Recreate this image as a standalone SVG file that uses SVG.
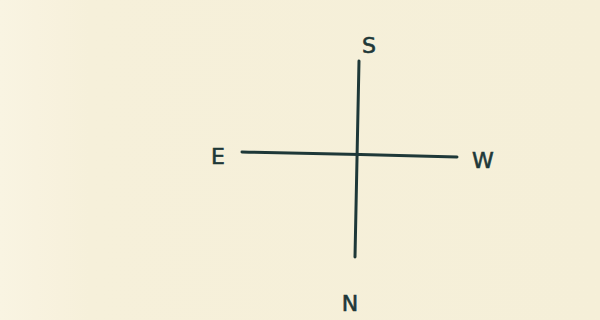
<svg xmlns="http://www.w3.org/2000/svg" width="600" height="320" viewBox="0 0 600 320">
<defs>
<linearGradient id="bg" x1="0" y1="0" x2="1" y2="0">
<stop offset="0" stop-color="#f9f4e2"/>
<stop offset="0.06" stop-color="#f8f2df"/>
<stop offset="0.15" stop-color="#f6f0da"/>
<stop offset="1" stop-color="#f5efd8"/>
</linearGradient>
<style>
.ln{stroke:#1e3838;stroke-width:3;stroke-linecap:round;fill:none}
.lb{font-family:"DejaVu Sans",sans-serif;font-size:22px;fill:#1e3838;stroke:#1e3838;stroke-width:0.6;text-anchor:middle}
</style>
</defs>
<rect width="600" height="320" fill="url(#bg)"/>
<g id="connectors">
<path class="ln" d="M359 61 L355 257"/>
<path class="ln" d="M242 152 Q350 154 457 157"/>
</g>
<g id="S"><text class="lb" x="369" y="53">S</text></g>
<g id="E"><text class="lb" x="218" y="164">E</text></g>
<g id="W"><text class="lb" x="483" y="168">W</text></g>
<g id="N"><text class="lb" x="350" y="311">N</text></g>
</svg>
